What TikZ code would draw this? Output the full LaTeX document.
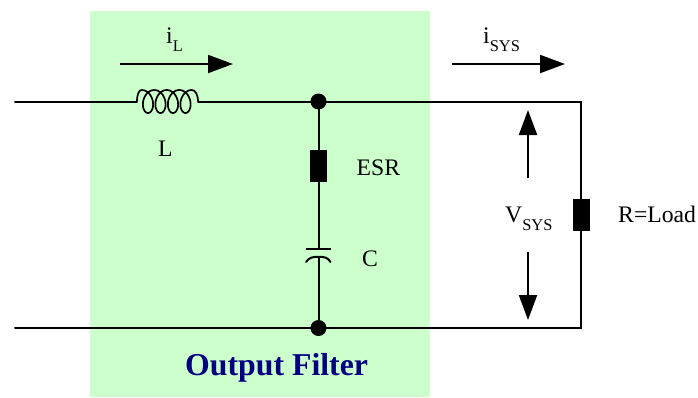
\documentclass[tikz,border=0pt]{standalone}
\usepackage{fontspec}
\setmainfont{Liberation Serif}
\usetikzlibrary{arrows.meta}
\definecolor{filtergreen}{HTML}{CCFFCC}
\definecolor{filternavy}{HTML}{000080}
\tikzset{
  wire/.style={line width=2pt,line cap=round,line join=miter},
  flow/.style={line width=2pt,-{Triangle[length=25pt,width=18pt]}},
  junction/.style={circle,fill=black,inner sep=0pt,minimum size=16pt},
  resbox/.style={rectangle,fill=black,inner sep=0pt,minimum width=17pt,minimum height=32pt},
  lab/.style={anchor=base west,inner sep=0pt,font=\fontsize{23.7}{28}\selectfont},
}
\newcommand{\subtext}[1]{\raisebox{-8pt}{\fontsize{16.4}{18}\selectfont #1}}
\begin{document}
\begin{tikzpicture}[x=1pt,y=-1pt]
\useasboundingbox (0,0) rectangle (698,397);
\fill[filtergreen] (90,11) rectangle (430,397);
% named points
\coordinate (inL) at (15,101.5);
\coordinate (coilL) at (137,101.5);
\coordinate (coilR) at (198,101.5);
\coordinate (inB) at (15,328);
\coordinate (cornerT) at (581,101.5);
\coordinate (cornerB) at (581,328);
\coordinate (capTop) at (318.5,249);
\coordinate (capBot) at (318.5,257);
\coordinate (iLa) at (120,64);
\coordinate (iLb) at (233,64);
\coordinate (iSa) at (452,64);
\coordinate (iSb) at (565,64);
\coordinate (vUa) at (528,178);
\coordinate (vUb) at (528,110);
\coordinate (vDa) at (528,252);
\coordinate (vDb) at (528,320);
% components
\node[junction] (jT) at (318.5,101.5) {};
\node[junction] (jB) at (318.5,328) {};
\node[resbox] (esr) at (318.5,166) {};
\node[resbox] (load) at (581,215) {};
% wires
\draw[wire] (inL) -- (coilL);
\draw[wire] (coilR) -- (jT.center) -- (cornerT) -- (load.north);
\draw[wire] (load.south) -- (cornerB) -- (inB);
\draw[wire] (jT) -- (esr.north);
\draw[wire] (esr.south) -- (capTop);
\draw[wire] (capBot) -- (jB);
% capacitor plates
\draw[wire,line cap=butt] (306,249) -- (331,249);
\draw[wire] (306,262) .. controls (309,257.5) and (313,256.5) .. (capBot) .. controls (324,256.5) and (328,257.5) .. (330.5,262);
% inductor
\draw[line width=1.7pt] (coilL) .. controls (137,94) and (139,90) .. (141.75,90)
  -- plot[smooth,domain=0:1440,samples=161] ({141.75+\x/360*12.5+8*sin(\x)},{101.5-11.5*cos(\x)})
  .. controls (195,90) and (198,94) .. (coilR);
% arrows
\draw[flow] (iLa) -- (iLb);
\draw[flow] (iSa) -- (iSb);
\draw[flow] (vUa) -- (vUb);
\draw[flow] (vDa) -- (vDb);
% labels
\node[lab] (tiL) at (166,43) {i\subtext{L}};
\node[lab] (tiS) at (483,43) {i\subtext{SYS}};
\node[lab] (tL) at (158,156) {L};
\node[lab] (tESR) at (356.5,175) {ESR};
\node[lab] (tC) at (362,266) {C};
\node[lab] (tV) at (505,222) {V\subtext{SYS}};
\node[lab] (tR) at (618,222) {R=Load};
\node[anchor=base west,inner sep=0pt,text=filternavy,font=\fontsize{31.8}{36}\selectfont\bfseries] (tF) at (185,375) {Output Filter};
\end{tikzpicture}
\end{document}
